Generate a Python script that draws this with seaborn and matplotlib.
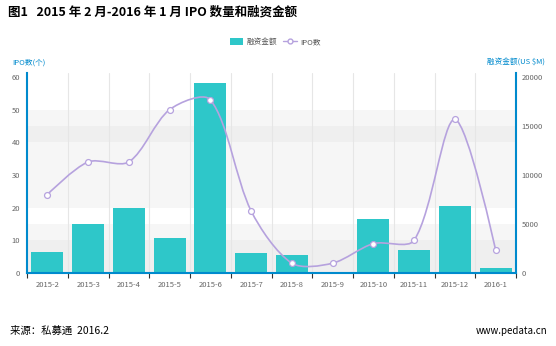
import numpy as np
import pandas as pd
import seaborn as sns
import matplotlib
matplotlib.use("Agg")
import matplotlib.pyplot as plt
from matplotlib.path import Path
from matplotlib.patches import PathPatch, Rectangle, Patch
from matplotlib.lines import Line2D

# ---------------- data ----------------
months = ["2015-2", "2015-3", "2015-4", "2015-5", "2015-6", "2015-7",
          "2015-8", "2015-9", "2015-10", "2015-11", "2015-12", "2016-1"]
amount_usd_m = [2170, 5000, 6600, 3570, 19350, 2010, 1800, 80, 5480, 2350, 6830, 480]
ipo_count = [24, 34, 34, 50, 53, 19, 3, 3, 9, 10, 47, 7]
left_ticks = [0, 10, 20, 30, 40, 50, 60]
right_ticks = [0, 5000, 10000, 15000, 20000]

TEAL = "#2ec7c9"
PURPLE = "#b6a2de"
BLUE = "#008acd"
GREY = "#666666"

sns.set_style("white")
plt.rcParams["font.family"] = ["Noto Sans CJK SC", "DejaVu Sans"]

fig = plt.figure(figsize=(5.56, 3.46), dpi=100)
W, H = 556, 346
L, R, B, T = 27, 516, 273, 73
ax = fig.add_axes([L / W, 1 - B / H, (R - L) / W, (B - T) / H])
ax2 = ax.twinx()

LMAX = 61.2
RMAX = 20400
ax.set_ylim(0, LMAX)
ax2.set_ylim(0, RMAX)

df = pd.DataFrame({"month": months, "amount": amount_usd_m, "ipo": ipo_count})
df["pos"] = np.arange(len(df))

# background split areas (drawn under bars on ax2)
for i in range(len(left_ticks) - 1):
    y0, y1 = left_ticks[i], left_ticks[i + 1]
    if i % 2 == 0:
        ax2.add_patch(Rectangle((-0.5, y0), 12, y1 - y0, transform=ax.transData,
                                facecolor="#c8c8c8", alpha=0.15, lw=0, zorder=0))
for i in range(len(right_ticks) - 1):
    y0, y1 = right_ticks[i], right_ticks[i + 1]
    if i % 2 == 0:
        ax2.add_patch(Rectangle((-0.5, y0), 12, y1 - y0, transform=ax2.transData,
                                facecolor="#c8c8c8", alpha=0.15, lw=0, zorder=0))
for xb in np.arange(0.5, len(months) - 0.5, 1):
    ax2.axvline(xb, color="#e6e6e6", lw=0.8, zorder=0.5)

# bars on right axis
sns.barplot(data=df, x="pos", y="amount", ax=ax2, color=TEAL, saturation=1,
            width=0.79, native_scale=True, zorder=2)
for p in ax2.patches:
    if isinstance(p, Rectangle) and p.get_facecolor()[:3] == matplotlib.colors.to_rgb(TEAL):
        p.set_edgecolor("none")

# smooth line (ECharts-style bezier) on left axis
px_x = (R - L) / 12.0
px_y = (B - T) / LMAX
xs = df["pos"].to_numpy(float)
ys = df["ipo"].to_numpy(float)
n = len(xs)
smooth = 0.3
sc = np.array([px_x, px_y])
cps = []
for i in range(n):
    pi = np.array([xs[i], ys[i]])
    if i == 0 or i == n - 1:
        cps.append((pi, pi))
        continue
    pp = np.array([xs[i - 1], ys[i - 1]])
    pn = np.array([xs[i + 1], ys[i + 1]])
    v = (pn - pp) * smooth
    d0 = np.linalg.norm((pi - pp) * sc)
    d1 = np.linalg.norm((pi - pn) * sc)
    s = d0 + d1
    if s:
        d0 /= s
        d1 /= s
    cps.append((pi - v * d0, pi + v * d1))
verts = [(xs[0], ys[0])]
codes = [Path.MOVETO]
for i in range(n - 1):
    verts += [tuple(cps[i][1]), tuple(cps[i + 1][0]), (xs[i + 1], ys[i + 1])]
    codes += [Path.CURVE4] * 3
ax.add_patch(PathPatch(Path(verts, codes), facecolor="none", edgecolor=PURPLE,
                       lw=1.2, zorder=3))
sns.scatterplot(data=df, x="pos", y="ipo", ax=ax, marker="o", s=18,
                facecolor="white", edgecolor=PURPLE, linewidth=0.9, zorder=4)

ax.set_zorder(ax2.get_zorder() + 1)
ax.patch.set_visible(False)

for a in (ax, ax2):
    a.set_xlim(-0.5, len(months) - 0.5)
    a.set_xlabel("")
    a.set_ylabel("")
    for s in a.spines.values():
        s.set_visible(False)

ax.spines["left"].set_visible(True)
ax.spines["left"].set_color(BLUE)
ax.spines["left"].set_linewidth(1.5)
ax.spines["bottom"].set_visible(True)
ax.spines["bottom"].set_color(BLUE)
ax.spines["bottom"].set_linewidth(1.5)
ax2.spines["right"].set_visible(True)
ax2.spines["right"].set_color(BLUE)
ax2.spines["right"].set_linewidth(1.5)

ax.set_yticks(left_ticks)
ax.set_yticklabels([str(t) for t in left_ticks])
ax2.set_yticks(right_ticks)
ax2.set_yticklabels([str(t) for t in right_ticks])
ax.tick_params(axis="y", length=0, pad=5, labelsize=5.5, labelcolor=GREY)
ax2.tick_params(axis="y", length=0, pad=4, labelsize=5.5, labelcolor=GREY)

ax.set_xticks(np.arange(len(months)))
ax.set_xticklabels(months)
ax.set_xticks(np.arange(-0.5, len(months), 1), minor=True)
ax.tick_params(axis="x", which="major", length=0, pad=6, labelsize=5.5, labelcolor=GREY)
ax.tick_params(axis="x", which="minor", length=3.5, width=0.8, color="#333333", direction="out")
ax.xaxis.set_ticks_position("bottom")
ax2.tick_params(axis="x", which="both", length=0, labelbottom=False)

# axis titles
fig.text(12 / W, 1 - 63 / H, "IPO数(个)", color=BLUE, fontsize=5.5, va="center", ha="left")
fig.text(545 / W, 1 - 63 / H, "融资金额(US $M)", color=BLUE, fontsize=5.5, va="center", ha="right")

# legend
handles = [Patch(facecolor=TEAL, edgecolor="none"),
           Line2D([0], [0], color=PURPLE, lw=1.0, marker="o", markersize=3.5,
                  markerfacecolor="white", markeredgecolor=PURPLE)]
fig.legend(handles, ["融资金额", "IPO数"], loc="center", bbox_to_anchor=(275 / W, 1 - 42 / H),
           ncol=2, frameon=False, fontsize=5.5, labelcolor="#555555",
           handlelength=1.8, handleheight=0.9, columnspacing=0.8, handletextpad=0.4)

# title and footer
fig.text(8 / W, 1 - 12 / H, "图1   2015 年 2 月-2016 年 1 月 IPO 数量和融资金额",
         fontsize=9, fontweight="bold", color="black", va="center", ha="left")
fig.text(10 / W, 1 - 331 / H, "来源：私募通  2016.2", fontsize=7.5, color="black",
         va="center", ha="left")
fig.text(547 / W, 1 - 331 / H, "www.pedata.cn", fontsize=7, color="black",
         va="center", ha="right")

fig.savefig("out.png", dpi=100)
